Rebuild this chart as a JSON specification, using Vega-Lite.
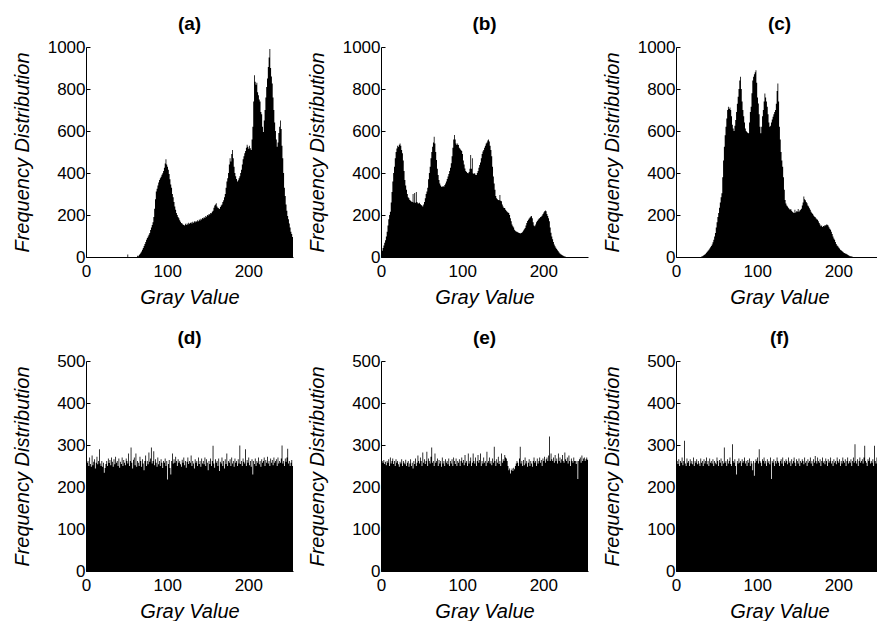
{
"$schema":"https://vega.github.io/schema/vega-lite/v6.json",
"background":"white",
"padding":{"left":12,"top":15,"right":0,"bottom":0},
"datasets":{"h":[
{"g":0,"a":0,"b":19,"c":0,"d":265,"e":275,"f":258},
{"g":1,"a":0,"b":30,"c":0,"d":258,"e":262,"f":262},
{"g":2,"a":0,"b":43,"c":0,"d":262,"e":258,"f":255},
{"g":3,"a":0,"b":55,"c":0,"d":250,"e":264,"f":266},
{"g":4,"a":0,"b":68,"c":0,"d":270,"e":255,"f":250},
{"g":5,"a":0,"b":80,"c":0,"d":255,"e":260,"f":262},
{"g":6,"a":0,"b":98,"c":0,"d":248,"e":252,"f":258},
{"g":7,"a":0,"b":120,"c":0,"d":275,"e":262,"f":270},
{"g":8,"a":0,"b":150,"c":0,"d":252,"e":258,"f":252},
{"g":9,"a":0,"b":180,"c":0,"d":260,"e":266,"f":262},
{"g":10,"a":0,"b":200,"c":0,"d":266,"e":250,"f":310},
{"g":11,"a":0,"b":215,"c":0,"d":244,"e":270,"f":256},
{"g":12,"a":0,"b":260,"c":0,"d":258,"e":256,"f":250},
{"g":13,"a":0,"b":310,"c":0,"d":272,"e":262,"f":268},
{"g":14,"a":0,"b":360,"c":0,"d":254,"e":268,"f":258},
{"g":15,"a":0,"b":400,"c":0,"d":262,"e":255,"f":262},
{"g":16,"a":0,"b":430,"c":0,"d":290,"e":262,"f":250},
{"g":17,"a":0,"b":470,"c":0,"d":256,"e":250,"f":266},
{"g":18,"a":0,"b":500,"c":0,"d":250,"e":266,"f":256},
{"g":19,"a":0,"b":517,"c":0,"d":262,"e":258,"f":262},
{"g":20,"a":0,"b":530,"c":0,"d":248,"e":262,"f":254},
{"g":21,"a":0,"b":525,"c":0,"d":258,"e":254,"f":270},
{"g":22,"a":0,"b":535,"c":0,"d":234,"e":248,"f":250},
{"g":23,"a":0,"b":541,"c":0,"d":245,"e":260,"f":262},
{"g":24,"a":0,"b":530,"c":0,"d":255,"e":256,"f":258},
{"g":25,"a":0,"b":510,"c":0,"d":262,"e":266,"f":266},
{"g":26,"a":0,"b":494,"c":0,"d":250,"e":250,"f":254},
{"g":27,"a":0,"b":460,"c":0,"d":268,"e":262,"f":262},
{"g":28,"a":0,"b":410,"c":0,"d":257,"e":258,"f":256},
{"g":29,"a":0,"b":367,"c":0,"d":264,"e":254,"f":250},
{"g":30,"a":0,"b":340,"c":0,"d":252,"e":265,"f":268},
{"g":31,"a":0,"b":320,"c":2,"d":270,"e":250,"f":258},
{"g":32,"a":0,"b":300,"c":3,"d":260,"e":258,"f":262},
{"g":33,"a":0,"b":285,"c":6,"d":248,"e":262,"f":250},
{"g":34,"a":0,"b":280,"c":9,"d":266,"e":248,"f":266},
{"g":35,"a":0,"b":272,"c":12,"d":254,"e":256,"f":256},
{"g":36,"a":0,"b":268,"c":16,"d":272,"e":266,"f":262},
{"g":37,"a":0,"b":264,"c":20,"d":258,"e":250,"f":270},
{"g":38,"a":0,"b":262,"c":25,"d":262,"e":258,"f":254},
{"g":39,"a":0,"b":300,"c":30,"d":250,"e":244,"f":262},
{"g":40,"a":0,"b":260,"c":35,"d":268,"e":262,"f":250},
{"g":41,"a":0,"b":305,"c":40,"d":246,"e":255,"f":268},
{"g":42,"a":0,"b":258,"c":46,"d":260,"e":268,"f":258},
{"g":43,"a":0,"b":310,"c":52,"d":255,"e":250,"f":262},
{"g":44,"a":0,"b":262,"c":59,"d":270,"e":258,"f":256},
{"g":45,"a":0,"b":256,"c":70,"d":250,"e":275,"f":266},
{"g":46,"a":0,"b":255,"c":82,"d":264,"e":262,"f":250},
{"g":47,"a":0,"b":258,"c":98,"d":258,"e":256,"f":262},
{"g":48,"a":0,"b":252,"c":114,"d":252,"e":270,"f":258},
{"g":49,"a":0,"b":248,"c":140,"d":268,"e":262,"f":254},
{"g":50,"a":0,"b":245,"c":165,"d":262,"e":250,"f":270},
{"g":51,"a":12,"b":240,"c":190,"d":256,"e":282,"f":262},
{"g":52,"a":0,"b":250,"c":209,"d":280,"e":258,"f":250},
{"g":53,"a":0,"b":262,"c":235,"d":250,"e":266,"f":264},
{"g":54,"a":0,"b":280,"c":260,"d":262,"e":255,"f":258},
{"g":55,"a":0,"b":300,"c":285,"d":294,"e":262,"f":268},
{"g":56,"a":0,"b":312,"c":304,"d":258,"e":284,"f":250},
{"g":57,"a":0,"b":330,"c":380,"d":244,"e":250,"f":262},
{"g":58,"a":0,"b":370,"c":460,"d":265,"e":268,"f":256},
{"g":59,"a":0,"b":400,"c":525,"d":270,"e":262,"f":294},
{"g":60,"a":0,"b":430,"c":580,"d":252,"e":256,"f":258},
{"g":61,"a":0,"b":470,"c":620,"d":280,"e":272,"f":262},
{"g":62,"a":0,"b":500,"c":660,"d":248,"e":294,"f":250},
{"g":63,"a":6,"b":525,"c":700,"d":262,"e":258,"f":266},
{"g":64,"a":3,"b":545,"c":715,"d":258,"e":262,"f":256},
{"g":65,"a":10,"b":573,"c":705,"d":250,"e":250,"f":262},
{"g":66,"a":14,"b":540,"c":712,"d":272,"e":280,"f":270},
{"g":67,"a":20,"b":500,"c":700,"d":262,"e":258,"f":255},
{"g":68,"a":26,"b":462,"c":670,"d":248,"e":262,"f":250},
{"g":69,"a":35,"b":420,"c":630,"d":266,"e":268,"f":302},
{"g":70,"a":43,"b":390,"c":612,"d":256,"e":250,"f":262},
{"g":71,"a":52,"b":367,"c":600,"d":240,"e":264,"f":258},
{"g":72,"a":62,"b":350,"c":625,"d":262,"e":256,"f":266},
{"g":73,"a":72,"b":340,"c":652,"d":275,"e":262,"f":250},
{"g":74,"a":82,"b":335,"c":690,"d":250,"e":248,"f":230},
{"g":75,"a":90,"b":335,"c":730,"d":262,"e":270,"f":262},
{"g":76,"a":98,"b":338,"c":763,"d":254,"e":256,"f":256},
{"g":77,"a":106,"b":335,"c":800,"d":282,"e":262,"f":268},
{"g":78,"a":114,"b":343,"c":840,"d":260,"e":250,"f":258},
{"g":79,"a":128,"b":350,"c":858,"d":268,"e":266,"f":262},
{"g":80,"a":140,"b":360,"c":800,"d":294,"e":258,"f":250},
{"g":81,"a":152,"b":372,"c":740,"d":256,"e":262,"f":266},
{"g":82,"a":165,"b":383,"c":700,"d":262,"e":254,"f":258},
{"g":83,"a":190,"b":395,"c":670,"d":285,"e":268,"f":262},
{"g":84,"a":230,"b":410,"c":640,"d":252,"e":250,"f":270},
{"g":85,"a":275,"b":425,"c":612,"d":266,"e":262,"f":256},
{"g":86,"a":312,"b":446,"c":600,"d":258,"e":256,"f":262},
{"g":87,"a":325,"b":480,"c":595,"d":248,"e":266,"f":250},
{"g":88,"a":340,"b":520,"c":590,"d":270,"e":250,"f":264},
{"g":89,"a":355,"b":560,"c":589,"d":254,"e":270,"f":258},
{"g":90,"a":367,"b":581,"c":640,"d":262,"e":262,"f":268},
{"g":91,"a":375,"b":560,"c":690,"d":250,"e":255,"f":250},
{"g":92,"a":382,"b":540,"c":715,"d":266,"e":268,"f":262},
{"g":93,"a":392,"b":533,"c":780,"d":258,"e":250,"f":256},
{"g":94,"a":399,"b":540,"c":840,"d":245,"e":262,"f":240},
{"g":95,"a":410,"b":533,"c":858,"d":262,"e":258,"f":262},
{"g":96,"a":425,"b":520,"c":870,"d":258,"e":266,"f":227},
{"g":97,"a":445,"b":515,"c":880,"d":268,"e":250,"f":258},
{"g":98,"a":465,"b":509,"c":889,"d":250,"e":262,"f":266},
{"g":99,"a":440,"b":505,"c":830,"d":262,"e":270,"f":262},
{"g":100,"a":430,"b":490,"c":760,"d":218,"e":258,"f":270},
{"g":101,"a":415,"b":460,"c":731,"d":255,"e":264,"f":256},
{"g":102,"a":395,"b":440,"c":680,"d":264,"e":252,"f":290},
{"g":103,"a":370,"b":422,"c":620,"d":245,"e":276,"f":262},
{"g":104,"a":345,"b":410,"c":589,"d":230,"e":258,"f":258},
{"g":105,"a":330,"b":405,"c":620,"d":262,"e":262,"f":250},
{"g":106,"a":300,"b":400,"c":670,"d":280,"e":250,"f":266},
{"g":107,"a":285,"b":399,"c":700,"d":256,"e":280,"f":262},
{"g":108,"a":262,"b":405,"c":740,"d":266,"e":256,"f":270},
{"g":109,"a":240,"b":420,"c":778,"d":258,"e":262,"f":256},
{"g":110,"a":225,"b":486,"c":760,"d":272,"e":270,"f":262},
{"g":111,"a":210,"b":420,"c":740,"d":262,"e":250,"f":250},
{"g":112,"a":200,"b":470,"c":715,"d":250,"e":258,"f":266},
{"g":113,"a":190,"b":399,"c":680,"d":266,"e":280,"f":258},
{"g":114,"a":185,"b":395,"c":640,"d":258,"e":262,"f":262},
{"g":115,"a":175,"b":400,"c":620,"d":262,"e":256,"f":254},
{"g":116,"a":168,"b":392,"c":625,"d":254,"e":270,"f":270},
{"g":117,"a":162,"b":391,"c":640,"d":248,"e":250,"f":219},
{"g":118,"a":160,"b":400,"c":655,"d":265,"e":262,"f":262},
{"g":119,"a":155,"b":410,"c":668,"d":258,"e":276,"f":258},
{"g":120,"a":152,"b":425,"c":680,"d":270,"e":258,"f":266},
{"g":121,"a":150,"b":438,"c":690,"d":252,"e":264,"f":250},
{"g":122,"a":158,"b":450,"c":700,"d":262,"e":280,"f":262},
{"g":123,"a":152,"b":470,"c":730,"d":246,"e":250,"f":256},
{"g":124,"a":160,"b":490,"c":790,"d":260,"e":262,"f":270},
{"g":125,"a":155,"b":502,"c":826,"d":270,"e":256,"f":262},
{"g":126,"a":163,"b":510,"c":740,"d":255,"e":270,"f":258},
{"g":127,"a":158,"b":520,"c":620,"d":262,"e":258,"f":250},
{"g":128,"a":162,"b":530,"c":560,"d":258,"e":262,"f":262},
{"g":129,"a":165,"b":541,"c":500,"d":275,"e":250,"f":266},
{"g":130,"a":160,"b":545,"c":460,"d":250,"e":284,"f":256},
{"g":131,"a":168,"b":555,"c":430,"d":262,"e":258,"f":270},
{"g":132,"a":163,"b":560,"c":380,"d":256,"e":262,"f":250},
{"g":133,"a":170,"b":550,"c":320,"d":244,"e":270,"f":262},
{"g":134,"a":165,"b":530,"c":272,"d":266,"e":256,"f":258},
{"g":135,"a":172,"b":509,"c":255,"d":258,"e":262,"f":266},
{"g":136,"a":168,"b":480,"c":245,"d":262,"e":252,"f":262},
{"g":137,"a":175,"b":430,"c":240,"d":250,"e":268,"f":254},
{"g":138,"a":170,"b":383,"c":235,"d":270,"e":258,"f":270},
{"g":139,"a":178,"b":350,"c":230,"d":255,"e":296,"f":258},
{"g":140,"a":174,"b":320,"c":225,"d":262,"e":262,"f":262},
{"g":141,"a":182,"b":290,"c":228,"d":248,"e":250,"f":250},
{"g":142,"a":178,"b":280,"c":220,"d":268,"e":266,"f":266},
{"g":143,"a":186,"b":275,"c":215,"d":256,"e":258,"f":256},
{"g":144,"a":183,"b":272,"c":212,"d":262,"e":272,"f":262},
{"g":145,"a":190,"b":270,"c":209,"d":254,"e":255,"f":270},
{"g":146,"a":186,"b":295,"c":225,"d":270,"e":262,"f":258},
{"g":147,"a":195,"b":268,"c":212,"d":250,"e":250,"f":250},
{"g":148,"a":192,"b":265,"c":218,"d":266,"e":280,"f":266},
{"g":149,"a":200,"b":250,"c":217,"d":258,"e":258,"f":262},
{"g":150,"a":198,"b":240,"c":228,"d":240,"e":266,"f":256},
{"g":151,"a":205,"b":233,"c":215,"d":262,"e":262,"f":268},
{"g":152,"a":202,"b":233,"c":222,"d":255,"e":276,"f":250},
{"g":153,"a":210,"b":225,"c":225,"d":268,"e":270,"f":262},
{"g":154,"a":208,"b":220,"c":230,"d":250,"e":268,"f":258},
{"g":155,"a":215,"b":215,"c":245,"d":262,"e":262,"f":266},
{"g":156,"a":220,"b":212,"c":260,"d":298,"e":250,"f":262},
{"g":157,"a":235,"b":209,"c":288,"d":256,"e":240,"f":254},
{"g":158,"a":245,"b":200,"c":275,"d":246,"e":244,"f":270},
{"g":159,"a":250,"b":185,"c":270,"d":266,"e":232,"f":258},
{"g":160,"a":256,"b":170,"c":262,"d":258,"e":240,"f":262},
{"g":161,"a":240,"b":155,"c":256,"d":262,"e":244,"f":250},
{"g":162,"a":235,"b":146,"c":245,"d":250,"e":238,"f":266},
{"g":163,"a":232,"b":140,"c":240,"d":268,"e":246,"f":258},
{"g":164,"a":228,"b":130,"c":232,"d":238,"e":242,"f":262},
{"g":165,"a":238,"b":125,"c":225,"d":260,"e":250,"f":270},
{"g":166,"a":245,"b":122,"c":215,"d":256,"e":256,"f":256},
{"g":167,"a":250,"b":120,"c":210,"d":270,"e":262,"f":262},
{"g":168,"a":262,"b":118,"c":205,"d":250,"e":258,"f":250},
{"g":169,"a":270,"b":115,"c":198,"d":262,"e":250,"f":266},
{"g":170,"a":285,"b":114,"c":193,"d":244,"e":268,"f":258},
{"g":171,"a":300,"b":112,"c":190,"d":266,"e":296,"f":274},
{"g":172,"a":330,"b":114,"c":185,"d":255,"e":256,"f":262},
{"g":173,"a":360,"b":116,"c":180,"d":280,"e":262,"f":256},
{"g":174,"a":375,"b":120,"c":177,"d":250,"e":250,"f":270},
{"g":175,"a":400,"b":126,"c":170,"d":262,"e":264,"f":262},
{"g":176,"a":440,"b":132,"c":162,"d":258,"e":252,"f":258},
{"g":177,"a":470,"b":138,"c":155,"d":266,"e":270,"f":266},
{"g":178,"a":455,"b":150,"c":146,"d":250,"e":256,"f":250},
{"g":179,"a":490,"b":162,"c":150,"d":270,"e":262,"f":262},
{"g":180,"a":510,"b":172,"c":143,"d":256,"e":248,"f":270},
{"g":181,"a":470,"b":177,"c":148,"d":262,"e":258,"f":258},
{"g":182,"a":430,"b":183,"c":146,"d":248,"e":266,"f":262},
{"g":183,"a":400,"b":188,"c":152,"d":268,"e":250,"f":254},
{"g":184,"a":385,"b":193,"c":150,"d":258,"e":262,"f":268},
{"g":185,"a":372,"b":195,"c":155,"d":262,"e":256,"f":262},
{"g":186,"a":360,"b":185,"c":153,"d":250,"e":248,"f":250},
{"g":187,"a":365,"b":165,"c":150,"d":266,"e":262,"f":266},
{"g":188,"a":375,"b":150,"c":142,"d":256,"e":270,"f":258},
{"g":189,"a":385,"b":146,"c":135,"d":299,"e":258,"f":262},
{"g":190,"a":400,"b":155,"c":130,"d":255,"e":262,"f":270},
{"g":191,"a":415,"b":165,"c":120,"d":262,"e":250,"f":256},
{"g":192,"a":440,"b":172,"c":110,"d":250,"e":268,"f":262},
{"g":193,"a":465,"b":177,"c":98,"d":268,"e":256,"f":250},
{"g":194,"a":480,"b":182,"c":88,"d":260,"e":262,"f":266},
{"g":195,"a":494,"b":186,"c":82,"d":256,"e":270,"f":258},
{"g":196,"a":505,"b":190,"c":72,"d":290,"e":258,"f":262},
{"g":197,"a":520,"b":193,"c":62,"d":250,"e":264,"f":254},
{"g":198,"a":535,"b":198,"c":55,"d":264,"e":250,"f":270},
{"g":199,"a":525,"b":205,"c":51,"d":258,"e":268,"f":262},
{"g":200,"a":515,"b":212,"c":45,"d":270,"e":262,"f":258},
{"g":201,"a":530,"b":218,"c":40,"d":252,"e":272,"f":266},
{"g":202,"a":518,"b":221,"c":35,"d":262,"e":258,"f":250},
{"g":203,"a":510,"b":218,"c":32,"d":248,"e":266,"f":262},
{"g":204,"a":560,"b":205,"c":28,"d":266,"e":270,"f":256},
{"g":205,"a":620,"b":195,"c":25,"d":230,"e":262,"f":270},
{"g":206,"a":740,"b":185,"c":22,"d":262,"e":275,"f":262},
{"g":207,"a":865,"b":170,"c":19,"d":255,"e":320,"f":258},
{"g":208,"a":835,"b":140,"c":17,"d":268,"e":262,"f":266},
{"g":209,"a":820,"b":115,"c":15,"d":250,"e":280,"f":250},
{"g":210,"a":830,"b":98,"c":13,"d":262,"e":266,"f":262},
{"g":211,"a":785,"b":85,"c":11,"d":258,"e":262,"f":270},
{"g":212,"a":770,"b":72,"c":8,"d":270,"e":270,"f":256},
{"g":213,"a":750,"b":60,"c":6,"d":254,"e":258,"f":262},
{"g":214,"a":740,"b":51,"c":4,"d":262,"e":276,"f":258},
{"g":215,"a":690,"b":44,"c":3,"d":248,"e":262,"f":266},
{"g":216,"a":680,"b":38,"c":2,"d":266,"e":268,"f":250},
{"g":217,"a":620,"b":32,"c":1,"d":258,"e":256,"f":262},
{"g":218,"a":595,"b":27,"c":0,"d":262,"e":280,"f":270},
{"g":219,"a":650,"b":22,"c":0,"d":270,"e":262,"f":258},
{"g":220,"a":700,"b":17,"c":0,"d":250,"e":270,"f":302},
{"g":221,"a":760,"b":13,"c":0,"d":264,"e":258,"f":262},
{"g":222,"a":810,"b":11,"c":0,"d":258,"e":266,"f":256},
{"g":223,"a":850,"b":8,"c":0,"d":272,"e":276,"f":266},
{"g":224,"a":905,"b":6,"c":0,"d":256,"e":262,"f":250},
{"g":225,"a":950,"b":4,"c":0,"d":262,"e":258,"f":262},
{"g":226,"a":990,"b":2,"c":0,"d":250,"e":282,"f":270},
{"g":227,"a":900,"b":1,"c":0,"d":268,"e":266,"f":258},
{"g":228,"a":860,"b":0,"c":0,"d":258,"e":262,"f":262},
{"g":229,"a":826,"b":0,"c":0,"d":264,"e":270,"f":266},
{"g":230,"a":760,"b":0,"c":0,"d":252,"e":256,"f":256},
{"g":231,"a":700,"b":0,"c":0,"d":270,"e":275,"f":270},
{"g":232,"a":640,"b":0,"c":0,"d":258,"e":262,"f":298},
{"g":233,"a":600,"b":0,"c":0,"d":262,"e":250,"f":262},
{"g":234,"a":560,"b":0,"c":0,"d":266,"e":268,"f":258},
{"g":235,"a":525,"b":0,"c":0,"d":250,"e":262,"f":250},
{"g":236,"a":545,"b":0,"c":0,"d":270,"e":258,"f":266},
{"g":237,"a":590,"b":0,"c":0,"d":256,"e":270,"f":262},
{"g":238,"a":620,"b":0,"c":0,"d":262,"e":262,"f":270},
{"g":239,"a":650,"b":0,"c":0,"d":258,"e":262,"f":256},
{"g":240,"a":610,"b":0,"c":0,"d":268,"e":255,"f":262},
{"g":241,"a":530,"b":0,"c":0,"d":299,"e":262,"f":258},
{"g":242,"a":470,"b":0,"c":0,"d":256,"e":219,"f":266},
{"g":243,"a":400,"b":0,"c":0,"d":262,"e":262,"f":250},
{"g":244,"a":330,"b":0,"c":0,"d":250,"e":266,"f":298},
{"g":245,"a":290,"b":0,"c":0,"d":268,"e":270,"f":262},
{"g":246,"a":250,"b":0,"c":0,"d":260,"e":258,"f":256},
{"g":247,"a":220,"b":0,"c":0,"d":270,"e":275,"f":270},
{"g":248,"a":195,"b":0,"c":0,"d":291,"e":262,"f":262},
{"g":249,"a":180,"b":0,"c":0,"d":256,"e":268,"f":250},
{"g":250,"a":160,"b":0,"c":0,"d":262,"e":270,"f":266},
{"g":251,"a":140,"b":0,"c":0,"d":250,"e":262,"f":258},
{"g":252,"a":120,"b":0,"c":0,"d":258,"e":266,"f":270},
{"g":253,"a":110,"b":0,"c":0,"d":264,"e":270,"f":262},
{"g":254,"a":95,"b":0,"c":0,"d":250,"e":265,"f":256},
{"g":255,"a":82,"b":0,"c":0,"d":255,"e":268,"f":266}
]},
"config":{
"view":{"stroke":null},
"font":"Liberation Sans",
"axis":{"grid":false,"domainColor":"black","domainWidth":1,"tickColor":"black","tickSize":-4,"labelColor":"black","labelFont":"Liberation Sans","labelFontSize":17,"titleFont":"Liberation Sans","titleFontSize":20,"titleFontStyle":"italic","titleFontWeight":"normal","titleColor":"black","format":"d"},
"axisX":{"labelPadding":10,"minExtent":22,"maxExtent":22,"titlePadding":8,"labelFlush":false},
"axisY":{"labelPadding":5,"minExtent":46,"maxExtent":46,"titlePadding":8},
"title":{"font":"Liberation Sans","fontSize":19,"fontWeight":"bold","color":"black","offset":4},
"area":{"color":"black","interpolate":"step-after","clip":true}
},
"columns":3,
"spacing":{"row":22,"column":14},
"concat":[
{"title":"(a)","width":207,"height":210,"data":{"name":"h"},"mark":"area","encoding":{
"x":{"field":"g","type":"quantitative","scale":{"domain":[0,255],"nice":false,"zero":false},"axis":{"values":[0,100,200],"title":"Gray Value"}},
"y":{"field":"a","type":"quantitative","scale":{"domain":[0,1000],"nice":false},"axis":{"values":[0,200,400,600,800,1000],"title":"Frequency Distribution"}}}},
{"title":"(b)","width":207,"height":210,"data":{"name":"h"},"mark":"area","encoding":{
"x":{"field":"g","type":"quantitative","scale":{"domain":[0,255],"nice":false,"zero":false},"axis":{"values":[0,100,200],"title":"Gray Value"}},
"y":{"field":"b","type":"quantitative","scale":{"domain":[0,1000],"nice":false},"axis":{"values":[0,200,400,600,800,1000],"title":"Frequency Distribution"}}}},
{"title":"(c)","width":207,"height":210,"data":{"name":"h"},"mark":"area","encoding":{
"x":{"field":"g","type":"quantitative","scale":{"domain":[0,255],"nice":false,"zero":false},"axis":{"values":[0,100,200],"title":"Gray Value"}},
"y":{"field":"c","type":"quantitative","scale":{"domain":[0,1000],"nice":false},"axis":{"values":[0,200,400,600,800,1000],"title":"Frequency Distribution"}}}},
{"title":"(d)","width":207,"height":210,"data":{"name":"h"},"mark":"area","encoding":{
"x":{"field":"g","type":"quantitative","scale":{"domain":[0,255],"nice":false,"zero":false},"axis":{"values":[0,100,200],"title":"Gray Value"}},
"y":{"field":"d","type":"quantitative","scale":{"domain":[0,500],"nice":false},"axis":{"values":[0,100,200,300,400,500],"title":"Frequency Distribution"}}}},
{"title":"(e)","width":207,"height":210,"data":{"name":"h"},"mark":"area","encoding":{
"x":{"field":"g","type":"quantitative","scale":{"domain":[0,255],"nice":false,"zero":false},"axis":{"values":[0,100,200],"title":"Gray Value"}},
"y":{"field":"e","type":"quantitative","scale":{"domain":[0,500],"nice":false},"axis":{"values":[0,100,200,300,400,500],"title":"Frequency Distribution"}}}},
{"title":"(f)","width":207,"height":210,"data":{"name":"h"},"mark":"area","encoding":{
"x":{"field":"g","type":"quantitative","scale":{"domain":[0,255],"nice":false,"zero":false},"axis":{"values":[0,100,200],"title":"Gray Value"}},
"y":{"field":"f","type":"quantitative","scale":{"domain":[0,500],"nice":false},"axis":{"values":[0,100,200,300,400,500],"title":"Frequency Distribution"}}}}
]
}
